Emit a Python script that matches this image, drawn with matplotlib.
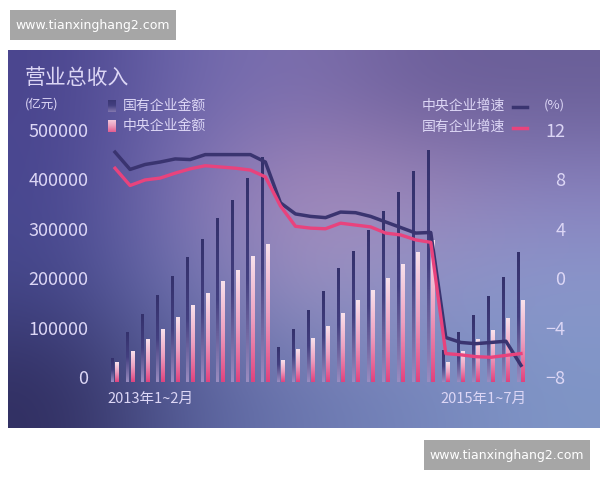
import numpy as np
import matplotlib
matplotlib.use('Agg')
import matplotlib.pyplot as plt
from matplotlib.colors import LinearSegmentedColormap, to_rgb
from matplotlib.patches import Rectangle
from matplotlib.lines import Line2D

plt.rcParams['font.family'] = ['Noto Sans CJK SC', 'DejaVu Sans']

# 2013年1~2月 ... 2015年1~7月 (累计)
periods = [f"{y}年1~{m}月" for y, last in [(2013, 12), (2014, 12), (2015, 7)]
           for m in range(2, last + 1)]

# 国有企业金额 (亿元)
soe_amount = [38000, 91000, 127500, 164000, 204000, 241000, 279000, 320000, 358000, 401000, 445000,
              59000, 97000, 135600, 174000, 218600, 255000, 295500, 334000, 374000, 415000, 459000,
              54600, 91000, 125500, 162000, 202000, 251000]
# 中央企业金额 (亿元)
central_amount = [30000, 52600, 75000, 97000, 121000, 144000, 170000, 194000, 216500, 243000, 269000,
                  34400, 56700, 79000, 103000, 129500, 154000, 176000, 200000, 226700, 251000, 277000,
                  30000, 52600, 75000, 95000, 119000, 154000]
# 中央企业增速 (%)
central_growth = [10.2, 8.8, 9.2, 9.4, 9.65, 9.6, 10.0, 10.0, 10.0, 10.0, 9.4,
                  6.1, 5.2, 5.0, 4.9, 5.35, 5.3, 5.0, 4.55, 4.1, 3.65, 3.7,
                  -4.8, -5.2, -5.3, -5.2, -5.1, -7.05]
# 国有企业增速 (%)
soe_growth = [8.9, 7.5, 7.95, 8.1, 8.5, 8.85, 9.1, 9.0, 8.9, 8.75, 8.2,
              5.85, 4.2, 4.05, 4.0, 4.45, 4.3, 4.15, 3.65, 3.5, 3.1, 2.9,
              -6.1, -6.2, -6.35, -6.4, -6.25, -6.1]

left_ticks = [0, 100000, 200000, 300000, 400000, 500000]
right_ticks = [-8, -4, 0, 4, 8, 12]

W, H = 600, 480
txt = '#dcd6f5'


def px(x0, y0, x1, y1):
    return [x0 / W, 1 - y1 / H, (x1 - x0) / W, (y1 - y0) / H]


fig = plt.figure(figsize=(6, 4.8), dpi=100)
fig.patch.set_facecolor('white')

# background gradient
bg = fig.add_axes(px(8, 50, 600, 428))
bg.axis('off')
bg_grid = [
    ['#4a458e', '#6f68ad', '#7e70ae', '#6c5e9a', '#6a5f98'],
    ['#484690', '#8076b6', '#ab8cbc', '#9d86b8', '#8a82bf'],
    ['#44478a', '#6f74b2', '#9c92c2', '#8e94c8', '#8a98cc'],
    ['#302e60', '#575f9a', '#6b78b0', '#7585bb', '#7f95c6'],
]
bg_img = np.array([[to_rgb(c) for c in row] for row in bg_grid])
bg.imshow(bg_img, aspect='auto', interpolation='bicubic', extent=[0, 1, 0, 1])
bg.set_xlim(0, 1)
bg.set_ylim(0, 1)

# watermarks
for (x0, y0) in [(10, 10), (424, 440)]:
    fig.add_artist(Rectangle((x0 / W, 1 - (y0 + 30) / H), 166 / W, 30 / H,
                             transform=fig.transFigure, color='#a6a6a6', lw=0))
    fig.text((x0 + 83) / W, 1 - (y0 + 15) / H, 'www.tianxinghang2.com', color='white',
             ha='center', va='center', fontsize=9, family='DejaVu Sans')

dark_cmap = LinearSegmentedColormap.from_list('d', ['#34316c', '#433f80', '#9a8cc0'])
pink_cmap = LinearSegmentedColormap.from_list('p', ['#f8e2ec', '#eca0c0', '#e0437e'])
grad = np.linspace(0, 1, 100).reshape(-1, 1)

ax = fig.add_axes(px(100, 120, 536, 382))
ax.set_facecolor('none')
ymin, ymax = -10000, 520000
for i, v in enumerate(soe_amount):
    ax.imshow(grad, extent=[i - 0.26, i - 0.08, ymin, v], aspect='auto', cmap=dark_cmap, zorder=2)
for i, v in enumerate(central_amount):
    ax.imshow(grad, extent=[i + 0.03, i + 0.29, ymin, v], aspect='auto', cmap=pink_cmap, zorder=2)
ax.set_xlim(-1, 28)
ax.set_ylim(ymin, ymax)
ax.set_yticks(left_ticks, [str(t) for t in left_ticks])
ax.tick_params(axis='y', length=0, pad=8.5, labelcolor=txt, labelsize=13)
ax.set_xticks([-0.5, 27.4], [periods[0], periods[-1]])
ax.tick_params(axis='x', length=0, pad=7, labelcolor=txt, labelsize=10.5)
xl = ax.get_xticklabels()
xl[0].set_ha('left')
xl[1].set_ha('right')
for s in ax.spines.values():
    s.set_visible(False)

ax2 = ax.twinx()
ax2.set_ylim(-8 + ymin / 25000, -8 + ymax / 25000)
x = np.arange(len(periods))
ax2.plot(x, central_growth, color='#3a3470', lw=2.5, solid_joinstyle='round', zorder=3)
ax2.plot(x, soe_growth, color='#e8437d', lw=2.4, solid_joinstyle='round', zorder=3)
ax2.set_yticks(right_ticks, [str(t).replace('-', '\u2212') for t in right_ticks])
ax2.tick_params(axis='y', length=0, pad=21, labelcolor=txt, labelsize=13)
for lab in ax2.get_yticklabels():
    lab.set_ha('right')
for s in ax2.spines.values():
    s.set_visible(False)

# titles and legends
fig.text(25 / W, 1 - 78 / H, '营业总收入', color=txt, fontsize=15, va='center')
fig.text(25 / W, 1 - 104 / H, '(亿元)', color=txt, fontsize=9, va='center')
fig.text(565 / W, 1 - 105 / H, '(%)', color=txt, fontsize=9.5, va='center', ha='right')

for (y0, cm, label) in [(100, dark_cmap, '国有企业金额'), (120, pink_cmap, '中央企业金额')]:
    sq = fig.add_axes(px(108, y0, 116, y0 + 12))
    sq.axis('off')
    sq.imshow(grad, aspect='auto', cmap=cm, vmin=-0.3, vmax=1.2)
    fig.text(123 / W, 1 - (y0 + 6) / H, label, color=txt, fontsize=10, va='center')

for (y0, col, label) in [(106, '#3a3470', '中央企业增速'), (127, '#e8437d', '国有企业增速')]:
    fig.text(505 / W, 1 - y0 / H, label, color=txt, fontsize=10, va='center', ha='right')
    fig.add_artist(Line2D([513 / W, 527 / W], [1 - (y0 + 1) / H] * 2, color=col, lw=2.5,
                          transform=fig.transFigure))

fig.savefig('out.png', dpi=100)
